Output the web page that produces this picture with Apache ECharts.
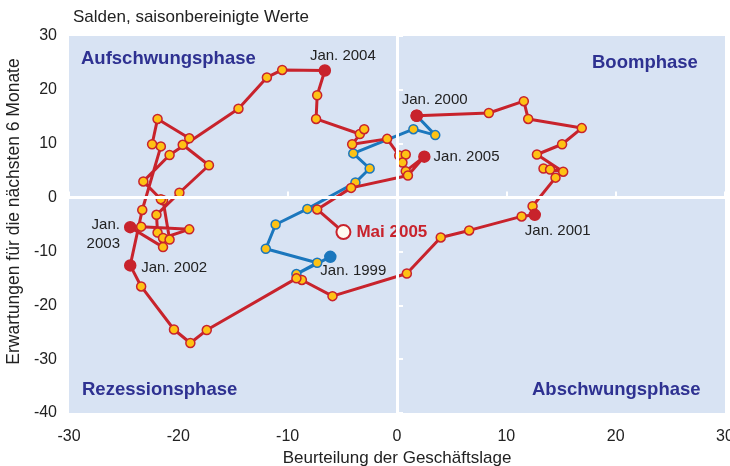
<!DOCTYPE html>
<html>
<head>
<meta charset="utf-8">
<script src="https://cdn.jsdelivr.net/npm/echarts@6/dist/echarts.min.js"></script>
<style>
  html, body { margin: 0; padding: 0; background: #fff; }
  #main { width: 730px; height: 466px; }
</style>
</head>
<body>
<div id="main"></div>
<script>
// Jan 1999 - Jan 2000 (blau)
const blueX = [-6.1, -9.2, -7.3, -12.0, -11.1, -8.2, -3.8, -2.5, -4.0, 1.5, 3.5, 1.8];
const blueY = [-11.0, -14.2, -12.1, -9.5, -5.0, -2.1, 2.8, 5.4, 8.2, 12.7, 11.6, 15.2];

// Jan 2000 - Mai 2005 (rot)
const redX = [1.8, 8.4, 11.6, 12.0, 16.9, 15.1, 12.8, 15.2, 13.4, 14.0, 14.5, 12.4,
    12.6, 11.4, 6.6, 4.0, 0.9, -5.9, -8.7, -9.2, -17.4, -18.9, -20.4, -23.4,
    -24.4, -23.3, -21.6, -22.4, -21.9, -19.0, -19.6, -17.2, -19.9, -22.0, -21.9, -21.4,
    -24.4, -23.4, -19.0, -21.4, -20.8, -21.4, -21.6, -23.2, -20.8, -14.5, -11.9, -10.5,
    -6.6, -7.3, -7.4, -3.4, -3.0, -4.1, -0.9, 0.2, 0.8, 0.5, 0.8,
    2.5, 1.0, -4.2, -7.3, -4.9];
const redY = [15.2, 15.7, 17.9, 14.6, 12.9, 9.9, 8.0, 4.8, 5.4, 5.2, 3.7, -1.6,
    -3.2, -3.5, -6.1, -7.4, -14.1, -18.3, -15.3, -15.0, -24.6, -27.0, -24.5, -16.5,
    -12.6, -2.3, 9.5, 9.9, 14.6, 11.0, 9.8, 6.0, 0.9, -3.2, -6.5, -9.2,
    -5.5, -5.4, -5.9, -7.5, -7.8, -0.5, -0.3, 3.0, 7.9, 16.5, 22.3, 23.7,
    23.6, 19.0, 14.6, 11.8, 12.7, 9.9, 10.9, 7.8, 8.0, 6.5, 4.9,
    7.6, 4.1, 1.8, -2.2, -6.4];

const janIdx = [0, 12, 24, 36, 48, 59];
const janText = ['Jan. 2000', 'Jan. 2001', 'Jan. 2002', 'Jan.\n2003', 'Jan. 2004', 'Jan. 2005'];
const lastText = 'Mai 2005';
const firstText = 'Jan. 1999';

const xTicks = {min: -30, max: 30, step: 10};
const yTicks = {min: -40, max: 30, step: 10};

const RED = '#c8232c';
const BLUE = '#1b77bd';
const YELLOW = '#fec214';
const BG = '#d8e3f3';
const PHASE = '#2e3191';
const FONT = '"Liberation Sans", Arial, sans-serif';

let chart = echarts.init(document.getElementById('main'), null, {renderer: 'canvas'});

// Platzierung der Beschriftungen (Versatz zum Punkt)
let janPlace = [
    {position: 'inside', offset: [18, -16]},
    {position: 'inside', offset: [23, 16]},
    {position: 'inside', offset: [44, 2]},
    {position: 'left', distance: 4, offset: [0, 7]},
    {position: 'inside', offset: [18, -15]},
    {position: 'right', distance: 3, offset: [0, 0]},
];

let labelText = {
    show: true,
    color: '#222',
    fontFamily: FONT,
    fontSize: 15,
    lineHeight: 19,
};

let blueData = blueX.map((x, i) => {
    let item = {value: [x, blueY[i]]};
    if (i === 0) {
        item.symbolSize = 11;
        item.itemStyle = {color: BLUE, borderColor: BLUE};
        item.label = {...labelText, formatter: firstText, position: 'inside', offset: [23, 14]};
    }
    if (i === blueX.length - 1) {
        item.symbolSize = 11;
        item.itemStyle = {color: RED, borderColor: RED};
    }
    return item;
});

let redData = redX.map((x, i) => {
    let item = {value: [x, redY[i]]};
    let j = janIdx.indexOf(i);
    if (j >= 0) {
        item.symbolSize = 11;
        item.itemStyle = {color: RED, borderColor: RED};
        item.label = {...labelText, formatter: janText[j], ...janPlace[j]};
        if (j === 3) item.label.align = 'right';
    }
    if (i === redX.length - 1) {
        item.symbolSize = 14;
        item.itemStyle = {color: '#fffbef', borderColor: RED, borderWidth: 2};
        item.label = {
            show: true, formatter: lastText, position: 'right', distance: 5,
            color: RED, fontFamily: FONT, fontSize: 17, fontWeight: 'bold'
        };
    }
    return item;
});

let phaseText = (text, left, top) => ({
    type: 'text',
    left: left,
    top: top,
    z: 10,
    style: {
        text: text,
        fill: PHASE,
        font: 'bold 18.5px ' + FONT,
    }
});

let option = {
    animation: false,
    title: {
        text: 'Salden, saisonbereinigte Werte',
        left: 68,
        top: 4,
        textStyle: {
            fontFamily: FONT,
            fontSize: 17,
            fontWeight: 'normal',
            color: '#222',
        }
    },
    grid: {
        left: 69,
        right: 5,
        top: 36,
        bottom: 53,
        show: true,
        backgroundColor: BG,
        borderWidth: 0,
        outerBoundsMode: 'none',
        containLabel: false,
    },
    xAxis: {
        type: 'value',
        min: xTicks.min,
        max: xTicks.max,
        interval: xTicks.step,
        name: 'Beurteilung der Geschäftslage',
        nameLocation: 'middle',
        nameGap: 37,
        nameTextStyle: {fontFamily: FONT, fontSize: 17, color: '#222'},
        axisLine: {show: false},
        axisTick: {show: true, inside: true, length: 6, lineStyle: {color: '#fff', width: 2}},
        splitLine: {show: false},
        axisLabel: {fontFamily: FONT, fontSize: 16, color: '#222', margin: 16},
    },
    yAxis: {
        type: 'value',
        min: yTicks.min,
        max: yTicks.max,
        interval: yTicks.step,
        name: 'Erwartungen für die nächsten 6 Monate',
        nameLocation: 'middle',
        nameGap: 42,
        nameTextStyle: {fontFamily: FONT, fontSize: 17.5, color: '#222', padding: [0, 0, 0, 26]},
        axisLine: {show: false},
        axisTick: {show: true, inside: true, length: 6, lineStyle: {color: '#fff', width: 2}},
        splitLine: {show: false},
        axisLabel: {fontFamily: FONT, fontSize: 16, color: '#222', margin: 12},
    },
    graphic: [
        phaseText('Aufschwungsphase', 81, 49),
        phaseText('Boomphase', 592, 53),
        phaseText('Rezessionsphase', 82, 380),
        phaseText('Abschwungsphase', 532, 380),
    ],
    series: [
        {
            type: 'line',
            data: [],
            silent: true,
            z: 1,
            markLine: {
                silent: true,
                symbol: 'none',
                label: {show: false},
                lineStyle: {color: '#fff', width: 3, type: 'solid'},
                data: [{xAxis: 0}, {yAxis: 0}]
            }
        },
        {
            type: 'line',
            name: '1999',
            data: blueData,
            z: 3,
            showAllSymbol: true,
            symbol: 'circle',
            symbolSize: 9,
            lineStyle: {color: BLUE, width: 3},
            itemStyle: {color: YELLOW, borderColor: BLUE, borderWidth: 1.5},
        },
        {
            type: 'line',
            name: '2000-2005',
            data: redData,
            z: 4,
            showAllSymbol: true,
            symbol: 'circle',
            symbolSize: 9,
            lineStyle: {color: RED, width: 3},
            itemStyle: {color: YELLOW, borderColor: RED, borderWidth: 1.5},
        }
    ]
};

chart.setOption(option);
window.addEventListener('resize', chart.resize);
</script>
</body>
</html>
